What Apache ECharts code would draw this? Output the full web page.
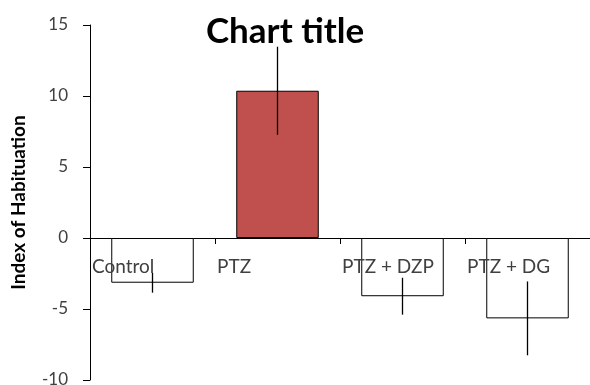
<!DOCTYPE html>
<html><head><meta charset="utf-8">
<script src="https://cdn.jsdelivr.net/npm/echarts@6/dist/echarts.min.js"></script>
<style>html,body{margin:0;padding:0;background:#fff}#c{width:590px;height:385px}</style>
</head><body><div id="c"></div>
<script>
var categories = ['Control', 'PTZ', 'PTZ + DZP', 'PTZ + DG'];
var values = [-3.15, 10.37, -4.1, -5.66];
var errors = [0.7, 3.1, 1.3, 2.6];
var barColors = ['#ffffff', '#C0504D', '#ffffff', '#ffffff'];
var yTicks = [-10, -5, 0, 5, 10, 15];

var font = 'Lato, "Open Sans", sans-serif';
var yMin = yTicks[0], yMax = yTicks[yTicks.length - 1];
var gridBottom = 5;
var chart = echarts.init(document.getElementById('c'));
chart.setOption({
  animation: false,
  title: {text: 'Chart title', left: 280, textAlign: 'center', top: 9,
    textStyle: {fontFamily: font, fontSize: 35, fontWeight: 'bold', color: '#000'}},
  grid: {left: 90, right: 0, top: 25, bottom: gridBottom, outerBoundsMode: 'none', containLabel: false},
  xAxis: [{
    type: 'category', data: categories,
    axisLine: {onZero: true, lineStyle: {color: '#000', width: 1}},
    axisTick: {show: true, inside: false, length: 6, lineStyle: {color: '#000'}},
    axisLabel: {show: false}
  }, {
    type: 'category', boundaryGap: false, data: categories.concat(['']),
    position: 'bottom', offset: 0, z: 10,
    axisLine: {show: false, onZero: false},
    axisTick: {show: false},
    axisLabel: {show: true, align: 'left', margin: 19, padding: [0, 0, 0, 2],
      color: '#404040', fontFamily: font, fontSize: 19, interval: 0}
  }],
  yAxis: [{
    type: 'value', min: yMin, max: yMax, interval: 5,
    name: 'Index of Habituation', nameLocation: 'middle', nameGap: 62,
    nameTextStyle: {fontFamily: font, fontSize: 19, fontWeight: 'bold', color: '#000'},
    axisLine: {show: true, lineStyle: {color: '#000'}},
    axisTick: {show: true, length: 7, lineStyle: {color: '#000'}},
    splitLine: {show: false},
    axisLabel: {color: '#404040', fontFamily: font, fontSize: 17, margin: 22}
  }],
  series: [{
    type: 'bar', xAxisIndex: 0, yAxisIndex: 0, barWidth: '66%',
    data: values.map(function (v, i) {
      return {value: v, itemStyle: {color: barColors[i], borderColor: '#000', borderWidth: 1}};
    })
  }, {
    type: 'custom', xAxisIndex: 0, yAxisIndex: 0,
    data: values.map(function (v, i) { return [i, v - errors[i], v + errors[i]]; }),
    renderItem: function (params, api) {
      var a = api.coord([api.value(0), api.value(1)]);
      var b = api.coord([api.value(0), api.value(2)]);
      return {type: 'line', shape: {x1: a[0], y1: a[1], x2: b[0], y2: b[1]},
        style: {stroke: '#000', lineWidth: 1.3}};
    },
    z: 5
  }]
});
// move the label axis up to the zero line, using the library's own scale
var yZero = chart.convertToPixel({yAxisIndex: 0}, 0);
var yBottom = chart.convertToPixel({yAxisIndex: 0}, yMin);
chart.setOption({xAxis: [{}, {offset: -(yBottom - yZero)}]});
</script></body></html>
